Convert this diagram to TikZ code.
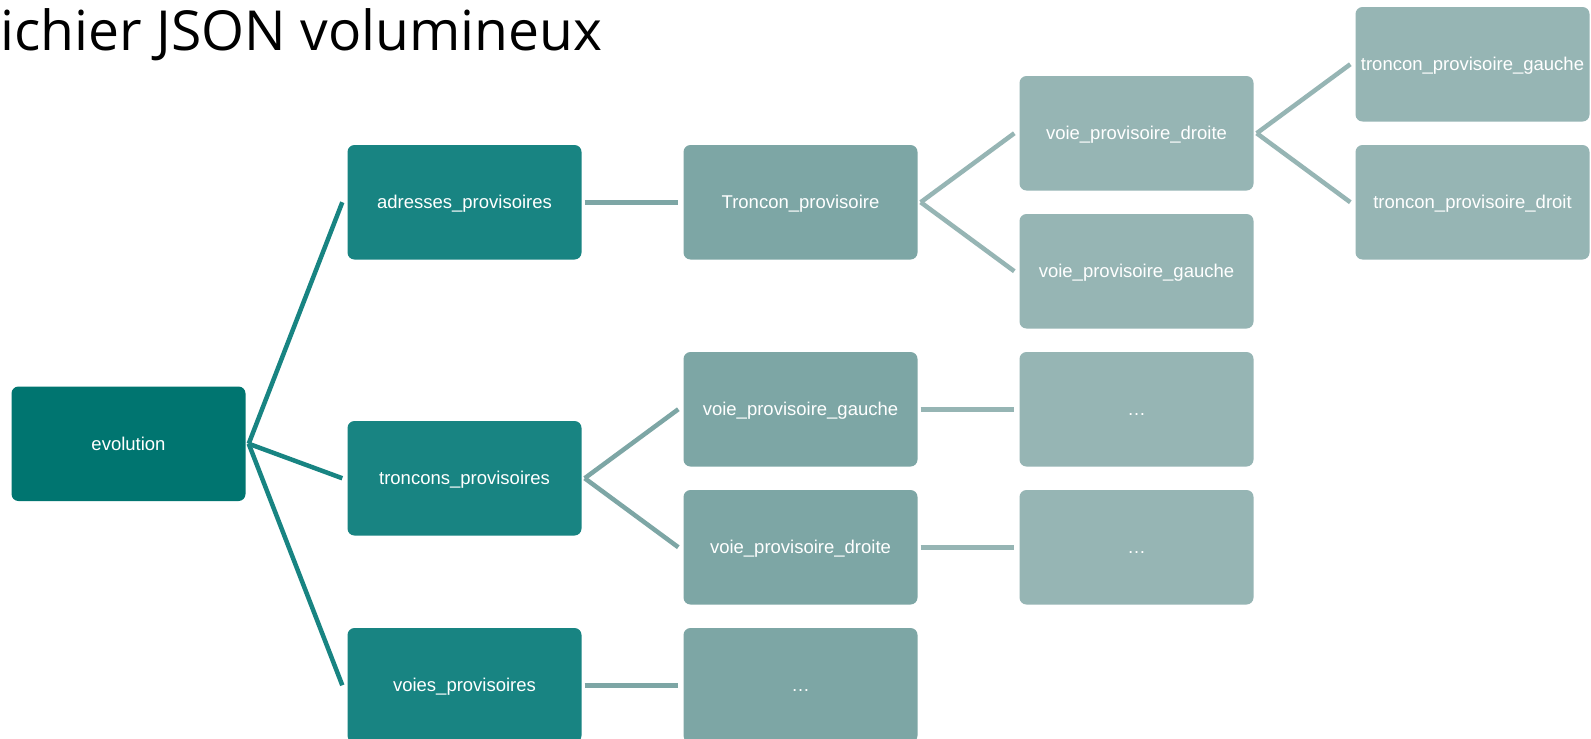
\documentclass[tikz,border=0pt]{standalone}
\usepackage{fontspec}
\setmainfont{Liberation Sans}
\newfontfamily\titlefont{Open Sans}
\definecolor{cevo}{RGB}{0,117,112}
\definecolor{clone}{RGB}{24,132,130}
\definecolor{cltwo}{RGB}{125,166,165}
\definecolor{clthree}{RGB}{150,181,180}
\begin{document}
\begin{tikzpicture}[x=1pt,y=-1pt,
  box/.style={rounded corners=7pt, minimum width=234pt, minimum height=114.5pt,
    inner sep=0pt, text height=13pt, text depth=0pt, text=white,
    font=\fontsize{18.5}{20}\selectfont, anchor=center},
  bevo/.style={box, fill=cevo},
  bone/.style={box, fill=clone},
  btwo/.style={box, fill=cltwo},
  bthree/.style={box, fill=clthree},
  link/.style={line width=4.5pt},
]
\useasboundingbox (0,0) rectangle (1591,739);
\clip (0,0) rectangle (1591,739);
\fill[white] (0,0) rectangle (1591,739);
\node[inner sep=0pt, anchor=base west, font=\titlefont\fontsize{55.2}{60}\selectfont] (title) at (0.5,50.7) {ichier JSON volumineux};
% column centers: 128.5 + 336k ; row centers: 64.25 + 69n
\node[bevo] (evo) at (128.5,443.75) {evolution};
\node[bone] (adr) at (464.5,202.25) {adresses\_provisoires};
\node[bone] (trs) at (464.5,478.25) {troncons\_provisoires};
\node[bone] (vps) at (464.5,685.25) {voies\_provisoires};
\node[btwo] (trp) at (800.5,202.25) {Troncon\_provisoire};
\node[btwo] (vpg) at (800.5,409.25) {voie\_provisoire\_gauche};
\node[btwo] (vpd) at (800.5,547.25) {voie\_provisoire\_droite};
\node[btwo] (dthree) at (800.5,685.25) {…};
\node[bthree] (tvd) at (1136.5,133.25) {voie\_provisoire\_droite};
\node[bthree] (tvg) at (1136.5,271.25) {voie\_provisoire\_gauche};
\node[bthree] (done) at (1136.5,409.25) {…};
\node[bthree] (dtwo) at (1136.5,547.25) {…};
\node[bthree] (tpg) at (1472.5,64.25) {troncon\_provisoire\_gauche};
\node[bthree] (tpd) at (1472.5,202.25) {troncon\_provisoire\_droit};
% connectors
\draw[link, clone] ([xshift=3pt]evo.east) -- ([xshift=-5pt]adr.west);
\draw[link, clone] ([xshift=3pt]evo.east) -- ([xshift=-5pt]trs.west);
\draw[link, clone] ([xshift=3pt]evo.east) -- ([xshift=-5pt]vps.west);
\draw[link, cltwo] ([xshift=3pt]adr.east) -- ([xshift=-5pt]trp.west);
\draw[link, cltwo] ([xshift=3pt]trs.east) -- ([xshift=-5pt]vpg.west);
\draw[link, cltwo] ([xshift=3pt]trs.east) -- ([xshift=-5pt]vpd.west);
\draw[link, cltwo] ([xshift=3pt]vps.east) -- ([xshift=-5pt]dthree.west);
\draw[link, clthree] ([xshift=3pt]trp.east) -- ([xshift=-5pt]tvd.west);
\draw[link, clthree] ([xshift=3pt]trp.east) -- ([xshift=-5pt]tvg.west);
\draw[link, clthree] ([xshift=3pt]vpg.east) -- ([xshift=-5pt]done.west);
\draw[link, clthree] ([xshift=3pt]vpd.east) -- ([xshift=-5pt]dtwo.west);
\draw[link, clthree] ([xshift=3pt]tvd.east) -- ([xshift=-5pt]tpg.west);
\draw[link, clthree] ([xshift=3pt]tvd.east) -- ([xshift=-5pt]tpd.west);
\end{tikzpicture}
\end{document}
